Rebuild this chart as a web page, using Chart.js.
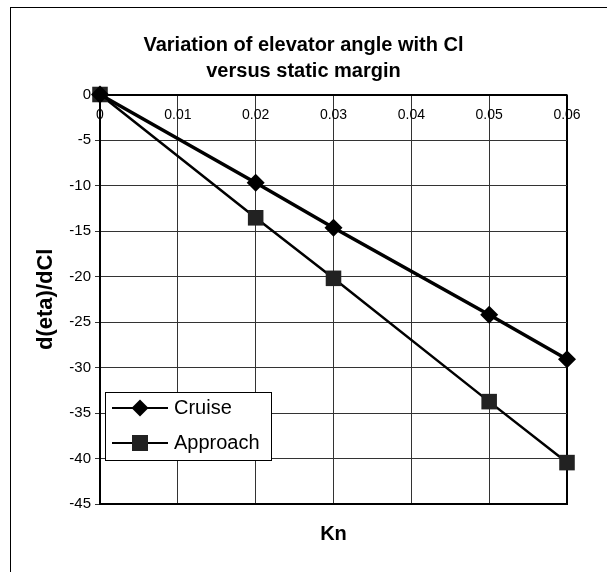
<!DOCTYPE html>
<html>
<head>
<meta charset="utf-8">
<script src="https://cdn.jsdelivr.net/npm/chart.js@4"></script>
<style>
html,body{margin:0;padding:0;background:#fff;overflow:hidden;}
#wrap{position:relative;width:607px;height:572px;}
</style>
</head>
<body>
<div id="wrap"><canvas id="c" width="607" height="572"></canvas></div>
<script>
// ---- data ----
const knValues = [0, 0.02, 0.03, 0.05, 0.06];
const cruiseValues = [0, -9.7, -14.65, -24.2, -29.1];
const approachValues = [0, -13.55, -20.2, -33.75, -40.45];
const seriesNames = ['Cruise', 'Approach'];
const titleLines = ['Variation of elevator angle with Cl', 'versus static margin'];
const xAxisTitle = 'Kn';
const yAxisTitle = 'd(eta)/dCl';
const xTickMin = 0, xTickMax = 0.06, xTickStep = 0.01;
const yTickMin = -45, yTickMax = 0, yTickStep = 5;

const FONT = "'Liberation Sans', Arial, sans-serif";

function makeIcon(kind) {
  const c = document.createElement('canvas');
  c.width = 56; c.height = 24;
  const g = c.getContext('2d');
  g.strokeStyle = '#000'; g.lineWidth = 2;
  g.beginPath(); g.moveTo(0, 12); g.lineTo(56, 12); g.stroke();
  if (kind === 'diamond') {
    g.fillStyle = '#000';
    g.beginPath(); g.moveTo(28, 3.5); g.lineTo(36.5, 12); g.lineTo(28, 20.5); g.lineTo(19.5, 12); g.closePath(); g.fill();
  } else {
    g.fillStyle = '#222';
    g.fillRect(20, 4, 16, 16);
  }
  return c;
}
const icons = [makeIcon('diamond'), makeIcon('square')];

const toPts = (arr) => knValues.map((x, i) => ({x: x, y: arr[i]}));

const framePlugin = {
  id: 'frame',
  beforeDraw(chart) {
    const c = chart.ctx;
    c.save();
    c.strokeStyle = '#000'; c.lineWidth = 1;
    c.strokeRect(10.5, 7.5, 800, 800);
    c.restore();
  },
  afterLayout(chart) {
    const lg = chart.legend;
    if (!lg) return;
    lg.left = 101; lg.top = 383; lg.right = 290; lg.bottom = 478;
    lg.width = lg.right - lg.left; lg.height = lg.bottom - lg.top;
    if (!lg._wrapped) {
      const orig = lg.draw.bind(lg);
      lg.draw = function (area) {
        const c = chart.ctx;
        c.save();
        c.fillStyle = '#fff';
        c.fillRect(105.5, 392.5, 166, 68);
        c.strokeStyle = '#000'; c.lineWidth = 1;
        c.strokeRect(105.5, 392.5, 166, 68);
        c.restore();
        orig(area);
      };
      lg._wrapped = true;
    }
  }
};

new Chart(document.getElementById('c'), {
  type: 'line',
  data: {
    datasets: [
      {
        label: seriesNames[0],
        data: toPts(cruiseValues),
        borderColor: '#000',
        backgroundColor: '#000',
        borderWidth: 3.5,
        pointStyle: 'rectRot',
        pointRadius: 9,
        pointBorderWidth: 0,
        pointBackgroundColor: '#000',
        clip: false,
        order: 1
      },
      {
        label: seriesNames[1],
        data: toPts(approachValues),
        borderColor: '#000',
        backgroundColor: '#222',
        borderWidth: 2.5,
        pointStyle: 'rect',
        pointRadius: 11,
        pointBorderWidth: 0,
        pointBackgroundColor: '#222',
        clip: false,
        order: 2
      }
    ]
  },
  options: {
    responsive: false,
    animation: false,
    devicePixelRatio: 1,
    layout: { padding: { left: 0, right: 0, top: 0, bottom: 0 } },
    scales: {
      x: {
        type: 'linear',
        position: 'bottom',
        min: xTickMin, max: xTickMax,
        ticks: { display: false, stepSize: xTickStep },
        grid: {
          color: (ctx) => (ctx.tick && Math.abs(ctx.tick.value - xTickMax) < 1e-9) ? '#000' : '#333',
          lineWidth: (ctx) => (ctx.tick && Math.abs(ctx.tick.value - xTickMax) < 1e-9) ? 2 : 1,
          drawTicks: false
        },
        border: { display: true, color: '#000', width: 2 },
        title: {
          display: true, text: xAxisTitle, color: '#000',
          font: { family: FONT, size: 20, weight: 'bold' },
          padding: { top: 0, bottom: 26 }
        },
        afterFit: (s) => { s.height = 68; }
      },
      xl: {
        type: 'linear',
        position: { y: 0 },
        min: xTickMin, max: xTickMax,
        grid: { display: false, drawTicks: false },
        border: { display: false },
        ticks: {
          stepSize: xTickStep, color: '#000', padding: 12,
          font: { family: FONT, size: 14 },
          callback: (v) => String(Math.round(v * 100) / 100)
        }
      },
      y: {
        type: 'linear',
        position: 'left',
        min: yTickMin, max: yTickMax,
        ticks: {
          stepSize: yTickStep, color: '#000', padding: 4,
          font: { family: FONT, size: 15 }
        },
        grid: {
          color: (ctx) => (ctx.tick && ctx.tick.value === 0) ? '#000' : '#333',
          lineWidth: (ctx) => (ctx.tick && ctx.tick.value === 0) ? 2 : 1,
          tickLength: 5
        },
        border: { display: true, color: '#000', width: 2 },
        title: {
          display: true, text: yAxisTitle, color: '#000',
          font: { family: FONT, size: 22, weight: 'bold' },
          padding: { top: 33, bottom: 0 }
        },
        afterFit: (s) => { s.width = 100; }
      },
      yr: {
        type: 'linear',
        position: 'right',
        min: yTickMin, max: yTickMax,
        ticks: { display: false },
        grid: { display: false, drawTicks: false },
        border: { display: false },
        title: { display: false },
        afterFit: (s) => { s.width = 40; }
      }
    },
    plugins: {
      title: {
        display: true,
        text: titleLines,
        color: '#000',
        font: { family: FONT, size: 20, weight: 'bold', lineHeight: '26px' },
        padding: { top: 32, bottom: 10.5 }
      },
      legend: {
        display: true,
        position: 'chartArea',
        align: 'start',
        labels: {
          usePointStyle: true,
          pointStyleWidth: 48,
          padding: 15,
          color: '#000',
          font: { family: FONT, size: 20 },
          generateLabels: (chart) => {
            const items = Chart.defaults.plugins.legend.labels.generateLabels(chart);
            items.forEach((it, i) => { it.pointStyle = icons[i]; it.rotation = 0; });
            return items;
          }
        }
      },
      tooltip: { enabled: false }
    }
  },
  plugins: [framePlugin]
});
</script>
</body>
</html>
